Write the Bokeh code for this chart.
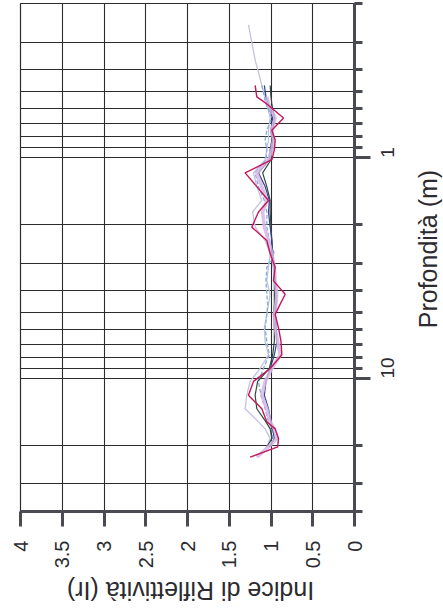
import math
from bokeh.plotting import figure
from bokeh.layouts import column, row
from bokeh.models import Range1d, FixedTicker
from bokeh.core.properties import value
from bokeh.embed import file_html
from bokeh.resources import INLINE

# Depth samples (m) shared by the profiles
depth = [0.47, 0.53, 0.57, 0.66, 0.75, 0.83, 0.92, 1.02, 1.17, 1.35, 1.56,
         1.76, 2.06, 2.37, 2.72, 3.13, 3.61, 4.15, 4.6, 5.12, 5.9, 6.8, 7.8,
         9.0, 10.3, 11.9, 13.7, 15.7, 16.9, 18.7, 20.4]

# Reflectivity index profiles (Ir)
ir_magenta = [1.19, 1.17, 1.05, 0.85, 0.99, 0.95, 0.96, 0.99, 1.31, 1.17, 1.03,
              1.15, 1.23, 1.05, 1.01, 0.95, 0.97, 0.83, 0.89, 0.95, 0.91, 0.88,
              0.87, 1.01, 1.21, 1.27, 1.11, 1.05, 0.95, 0.91, 0.92, 1.25]
depth_magenta = depth + [22.7]

ir_lavender = [1.05, 1.03, 0.95, 0.99, 0.97, 0.99, 1.03, 1.17, 1.11, 1.05, 1.10,
               1.08, 1.03, 0.99, 0.96, 0.95, 0.93, 0.94, 0.96, 0.95, 0.92, 0.89,
               0.99, 1.07, 1.11, 1.05, 1.01, 0.96, 0.93, 1.03, 1.17]
depth_lavender = depth[1:] + [22.7]

ir_navy = [1.08, 1.06, 1.03, 0.98, 1.00, 0.99, 1.01, 1.02, 1.15, 1.07, 1.02,
           1.03, 1.01, 0.99, 0.98, 0.96, 0.95, 0.94, 0.94, 0.95, 0.94, 0.93,
           0.96, 1.01, 1.06, 1.08, 1.03, 1.00, 0.98, 0.96, 1.02]

ir_green = [1.01, 1.00, 0.99, 0.96, 0.98, 0.98, 0.99, 1.00, 1.10, 1.05, 1.01,
            1.01, 1.00, 0.99, 0.98, 0.97, 0.96, 0.96, 0.96, 0.97, 0.96, 0.96,
            0.98, 1.02, 1.16, 1.19, 1.17, 1.06, 1.01, 0.99, 1.05]

ir_lightblue = [1.11, 1.08, 1.06, 0.99, 1.05, 1.07, 1.05, 1.06, 1.19, 1.15, 1.08,
                1.05, 1.05, 1.02, 0.96, 1.05, 1.06, 1.05, 1.04, 1.05, 1.07, 1.05,
                1.02, 1.09, 1.15, 1.12, 1.07, 1.03, 0.99, 0.98, 1.01]

ir_pale = [1.27, 1.23, 1.19, 1.15,
           1.11, 1.07, 1.05, 1.01, 1.03, 1.03, 1.05, 1.07, 1.21, 1.17, 1.11,
           1.22, 1.19, 1.07, 1.01, 1.03, 1.05, 1.01, 1.03, 1.05, 1.08, 1.07,
           1.03, 1.13, 1.25, 1.29, 1.31, 1.15, 1.07, 1.01, 1.05]
depth_pale = [0.25, 0.30, 0.36, 0.41] + depth

# Axis ticks and titles
ir_ticks = [0, 0.5, 1, 1.5, 2, 2.5, 3, 3.5, 4]
ir_tick_labels = ["0", "0.5", "1", "1.5", "2", "2.5", "3", "3.5", "4"]
depth_major = [1, 10]
depth_minor = [0.2, 0.3, 0.4, 0.5, 0.6, 0.7, 0.8, 0.9,
               2, 3, 4, 5, 6, 7, 8, 9, 20, 30, 40]
depth_title = "Profondità (m)"
ir_title = "Indice di Riflettività (Ir)"

FONT = "Liberation Sans"
INK = "#2b2b30"
AXIS = "#4a4a52"

# Main chart: 412 x 573, frame from x=20..354, y=3..511
chart = figure(width=412, height=573, output_backend="svg", toolbar_location=None,
               x_range=Range1d(4, 0), y_range=Range1d(40, 0.2),
               y_axis_type="log", y_axis_location="right",
               min_border_left=20, min_border_right=58,
               min_border_top=3, min_border_bottom=62)
chart.background_fill_color = "white"
chart.border_fill_color = "white"
chart.outline_line_color = INK
chart.outline_line_width = 1.2

# Reflectivity axis (horizontal, reversed, labels turned with the page)
xax = chart.xaxis[0]
xax.ticker = FixedTicker(ticks=ir_ticks)
xax.major_label_overrides = dict(zip(ir_ticks, ir_tick_labels))
xax.major_label_orientation = math.pi / 2
xax.major_label_standoff = 14
xax.major_label_text_font = FONT
xax.major_label_text_font_size = "20px"
xax.major_label_text_color = INK
xax.axis_line_width = 3
xax.axis_line_color = AXIS
xax.major_tick_line_width = 3
xax.major_tick_line_color = AXIS
xax.major_tick_out = 15
xax.major_tick_in = 0
xax.minor_tick_line_color = None

# Depth axis (vertical, log, increasing downward)
yax = chart.yaxis[0]
yax.ticker = FixedTicker(ticks=depth_major, minor_ticks=depth_minor)
yax.major_label_overrides = {1: "1", 10: "10"}
yax.major_label_orientation = math.pi / 2
yax.major_label_standoff = 17
yax.major_label_text_font = FONT
yax.major_label_text_font_size = "19px"
yax.major_label_text_color = INK
yax.axis_line_width = 3
yax.axis_line_color = AXIS
yax.major_tick_line_width = 3
yax.major_tick_line_color = AXIS
yax.major_tick_out = 16
yax.major_tick_in = 0
yax.minor_tick_line_width = 3
yax.minor_tick_line_color = AXIS
yax.minor_tick_out = 8
yax.minor_tick_in = 0

chart.xgrid.grid_line_color = INK
chart.xgrid.grid_line_width = 1.1
chart.ygrid.grid_line_color = INK
chart.ygrid.grid_line_width = 1.1
chart.ygrid.minor_grid_line_color = INK
chart.ygrid.minor_grid_line_width = 1.1

# Profiles
chart.line(ir_pale, depth_pale, line_color="#c3c2e4", line_width=1.3)
chart.line(ir_lightblue, depth, line_color="#86acdc", line_width=1.3, line_dash="4 2")
chart.line(ir_green, depth, line_color="#2f4a38", line_width=1.2)
chart.line(ir_navy, depth, line_color="#34428f", line_width=1.2)
chart.line(ir_lavender, depth_lavender, line_color="#d6b6e4", line_width=3.5, line_alpha=0.85)
chart.line(ir_magenta, depth_magenta, line_color="#c4185c", line_width=1.4)


def title_strip(width, height, x, y, text, angle):
    """A bare strip that only carries one rotated axis title."""
    f = figure(width=width, height=height, output_backend="svg", toolbar_location=None,
               x_range=Range1d(0, width), y_range=Range1d(0, height),
               x_axis_location=None, y_axis_location=None,
               min_border=0, min_border_left=0, min_border_right=0,
               min_border_top=0, min_border_bottom=0)
    f.outline_line_color = None
    f.background_fill_color = "white"
    f.border_fill_color = "white"
    f.xgrid.visible = False
    f.ygrid.visible = False
    f.text(x=[x], y=[y], text=[text], angle=angle,
           text_align="center", text_baseline="middle",
           text_font=value(FONT), text_font_size="25px", text_color=INK)
    return f


# Depth title to the right (reads upward), reflectivity title below (upside down)
right_strip = title_strip(31, 573, 15, 573 - 277, depth_title, math.pi / 2)
bottom_strip = title_strip(443, 40, 190, 40 - 17, ir_title, math.pi)

p = column(row(chart, right_strip, spacing=0), bottom_strip, spacing=0)

open("out.html", "w").write(file_html(p, INLINE))
